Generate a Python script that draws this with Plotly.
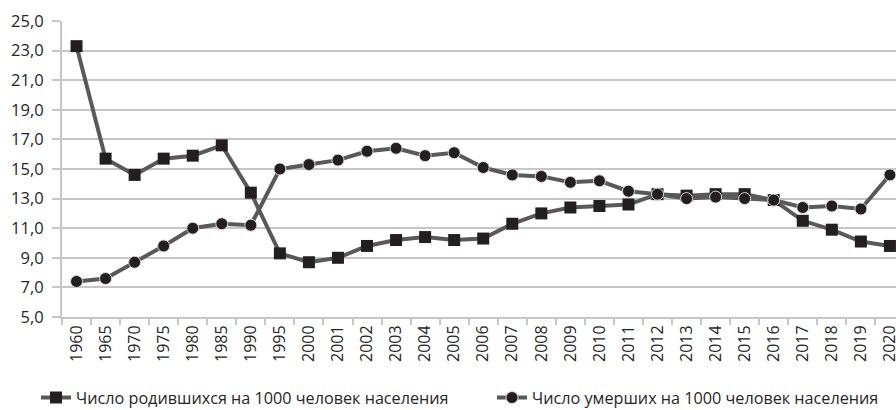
import plotly.graph_objects as go

years = ["1960", "1965", "1970", "1975", "1980", "1985", "1990", "1995",
         "2000", "2001", "2002", "2003", "2004", "2005", "2006", "2007",
         "2008", "2009", "2010", "2011", "2012", "2013", "2014", "2015",
         "2016", "2017", "2018", "2019", "2020"]

births = [23.3, 15.7, 14.6, 15.7, 15.9, 16.6, 13.4, 9.3,
          8.7, 9.0, 9.8, 10.2, 10.4, 10.2, 10.3, 11.3,
          12.0, 12.4, 12.5, 12.6, 13.3, 13.2, 13.3, 13.3,
          12.9, 11.5, 10.9, 10.1, 9.8]

deaths = [7.4, 7.6, 8.7, 9.8, 11.0, 11.3, 11.2, 15.0,
          15.3, 15.6, 16.2, 16.4, 15.9, 16.1, 15.1, 14.6,
          14.5, 14.1, 14.2, 13.5, 13.3, 13.0, 13.1, 13.0,
          12.9, 12.4, 12.5, 12.3, 14.6]

name_births = "Число родившихся на 1000 человек населения"
name_deaths = "Число умерших на 1000 человек населения"

y_ticks = [5, 7, 9, 11, 13, 15, 17, 19, 21, 23, 25]

FONT = "Open Sans"
TXT = "#262626"
LINE = "#595959"
MARK = "#231f20"
GRID = "#c6c6c6"

W, H = 896, 410

fig = go.Figure()
fig.add_trace(go.Scatter(
    x=years, y=births, name=name_births, mode="lines+markers",
    line=dict(color=LINE, width=4),
    marker=dict(symbol="square", size=12, color=MARK, line=dict(width=0)),
    cliponaxis=False, legend="legend",
))
fig.add_trace(go.Scatter(
    x=years, y=deaths, name=name_deaths, mode="lines+markers",
    line=dict(color=LINE, width=4),
    marker=dict(symbol="circle", size=12, color=MARK,
                line=dict(width=1, color="#d9d9d9")),
    cliponaxis=False, legend="legend2",
))

fig.update_layout(
    width=W, height=H,
    margin=dict(l=62, r=0, t=21, b=93, autoexpand=False),
    paper_bgcolor="white", plot_bgcolor="white",
    separators=", ",
    font=dict(family=FONT, size=16, color=TXT),
    xaxis=dict(
        type="category", range=[-0.5, -0.5 + 834 / 29.05],
        tickangle=-90, ticks="outside", tickson="boundaries",
        ticklen=6, tickcolor=GRID, tickwidth=2,
        showline=True, linecolor=GRID, linewidth=2,
        showgrid=False, automargin=False,
        tickfont=dict(size=16, color=TXT),
    ),
    yaxis=dict(
        range=[5, 25], tickvals=y_ticks, tickformat=".1f",
        ticks="outside", ticklen=8, tickcolor=GRID, tickwidth=2,
        showline=True, linecolor=GRID, linewidth=2,
        showgrid=True, gridcolor=GRID, gridwidth=2,
        zeroline=False, ticklabelstandoff=5, automargin=False,
        tickfont=dict(size=16.5, color=TXT),
    ),
    legend=dict(
        orientation="h", xref="container", yref="container",
        x=36 / W, y=1 - 398 / H, xanchor="left", yanchor="middle",
        font=dict(size=16.2, color=TXT), bgcolor="rgba(0,0,0,0)",
    ),
    legend2=dict(
        orientation="h", xref="container", yref="container",
        x=492 / W, y=1 - 398 / H, xanchor="left", yanchor="middle",
        font=dict(size=16.2, color=TXT), bgcolor="rgba(0,0,0,0)",
    ),
    showlegend=True,
)

fig.write_html(
    "out.html",
    config={"displayModeBar": False},
    post_script="document.body.style.margin='0';document.body.style.overflow='hidden';",
)
